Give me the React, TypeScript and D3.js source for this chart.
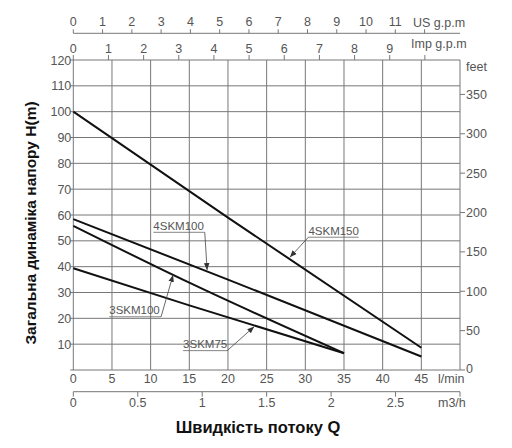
import React, { useRef, useEffect } from 'react';
import * as d3 from 'd3';

// pump curves: flow in l/min, head in m
const skm150Flow = [0, 20, 45];
const skm150Head = [100, 59, 8.6];
const skm100Flow = [0, 20, 45];
const skm100Head = [58.4, 35, 5.2];
const skm3100Flow = [0, 15, 35];
const skm3100Head = [55.8, 33.8, 6.5];
const skm375Flow = [0, 15, 35];
const skm375Head = [39.4, 25, 6.5];

const curveNames = ['4SKM150', '4SKM100', '3SKM100', '3SKM75'];

// ticks
const lpmTicks = [0, 5, 10, 15, 20, 25, 30, 35, 40, 45];
const headTicks = [10, 20, 30, 40, 50, 60, 70, 80, 90, 100, 110, 120];
const feetTicks = [0, 50, 100, 150, 200, 250, 300, 350];
const usGpmTicks = [0, 1, 2, 3, 4, 5, 6, 7, 8, 9, 10, 11, 12];
const impGpmTicks = [0, 1, 2, 3, 4, 5, 6, 7, 8, 9, 10];
const m3hTicks = [0, 0.5, 1, 1.5, 2, 2.5, 3];

// label boxes: text start / underline end (l/min), underline height (m), arrow tip (l/min, m)
const labelX0 = [30.4, 10.35, 4.65, 14.2];
const labelX1 = [36.9, 17.0, 11.35, 19.9];
const labelY = [51.4, 53.3, 20.6, 7.5];
const arrowFromEnd = [false, true, true, true];
const arrowTipX = [28.0, 17.3, 12.9, 23.4];
const arrowTipY = [43.6, 38.7, 36.8, 16.8];

const US_GPM = 3.785;
const IMP_GPM = 4.546;
const M3H = 16.667;
const FT = 3.2808;

const App: React.FC = () => {
  const svgRef = useRef<SVGSVGElement>(null);

  const width = 512;
  const height = 448;
  const margin = { top: 60, right: 52, bottom: 78, left: 73.3 };
  const numFont = '"Liberation Sans", Arial, sans-serif';
  const grey = '#555';

  const x = d3.scaleLinear().domain([0, 50]).range([margin.left, width - margin.right]);
  const y = d3.scaleLinear().domain([0, 120]).range([height - margin.bottom, margin.top]);

  useEffect(() => {
    if (!svgRef.current) return;
    const svg = d3.select(svgRef.current);
    svg.selectAll('*').remove();

    const x0 = x(0), x1 = x(50), y0 = y(0), y1 = y(120);

    // arrow marker
    svg.append('defs').append('marker')
      .attr('id', 'arr')
      .attr('viewBox', '0 0 10 10')
      .attr('refX', 10).attr('refY', 5)
      .attr('markerWidth', 7).attr('markerHeight', 7)
      .attr('markerUnits', 'userSpaceOnUse')
      .attr('orient', 'auto')
      .append('path').attr('d', 'M0,1 L10,5 L0,9 Z').attr('fill', '#333');

    // grid
    const grid = svg.append('g').attr('stroke', '#777').attr('stroke-width', 1);
    grid.selectAll('.v').data(d3.range(0, 55, 5)).join('line')
      .attr('x1', d => x(d)).attr('x2', d => x(d))
      .attr('y1', y1).attr('y2', y0);
    grid.selectAll('.h').data([0, ...headTicks]).join('line')
      .attr('x1', x0 - 3).attr('x2', x1)
      .attr('y1', d => y(d)).attr('y2', d => y(d));

    // left tick labels
    svg.append('g').selectAll('text').data(headTicks).join('text')
      .attr('x', x0 - 2).attr('y', d => y(d) + 4.5)
      .attr('text-anchor', 'end')
      .style('font', `12.5px ${numFont}`).attr('fill', grey)
      .text(d => d);

    // right feet axis
    const fy = d3.scaleLinear().domain([0, 120 * FT]).range([y0, y1]);
    const right = svg.append('g');
    right.selectAll('line').data(feetTicks).join('line')
      .attr('x1', x1).attr('x2', x1 + 5)
      .attr('y1', d => fy(d)).attr('y2', d => fy(d))
      .attr('stroke', '#777');
    right.selectAll('text').data(feetTicks).join('text')
      .attr('x', x1 + 6).attr('y', d => fy(d) + 4.5 - (d === 0 ? 2 : 0))
      .style('font', `12.5px ${numFont}`).attr('fill', grey)
      .text(d => d);
    right.append('text').attr('x', x1 + 6).attr('y', 71)
      .style('font', `12.5px ${numFont}`).attr('fill', grey).text('feet');

    // bottom l/min labels
    const bottom = svg.append('g');
    bottom.selectAll('text').data(lpmTicks).join('text')
      .attr('x', d => x(d)).attr('y', y0 + 12.5)
      .attr('text-anchor', 'middle')
      .style('font', `12.5px ${numFont}`).attr('fill', grey)
      .text(d => d);
    bottom.append('text').attr('x', x(50) - 22).attr('y', y0 + 12.5)
      .style('font', `12.5px ${numFont}`).attr('fill', grey).text('l/min');

    // m3/h axis
    const mY = 391.7;
    const m3 = svg.append('g');
    m3.append('line').attr('x1', x0).attr('x2', x1).attr('y1', mY).attr('y2', mY).attr('stroke', '#777');
    m3.selectAll('line.t').data(m3hTicks).join('line').attr('class', 't')
      .attr('x1', d => x(d * M3H)).attr('x2', d => x(d * M3H))
      .attr('y1', mY).attr('y2', mY + 5).attr('stroke', '#777');
    m3.selectAll('text').data(m3hTicks.slice(0, -1)).join('text')
      .attr('x', d => x(d * M3H)).attr('y', mY + 15)
      .attr('text-anchor', 'middle')
      .style('font', `12.5px ${numFont}`).attr('fill', grey)
      .text(d => d);
    m3.append('text').attr('x', x(50) - 22).attr('y', mY + 15)
      .style('font', `12.5px ${numFont}`).attr('fill', grey).text('m3/h');

    // US gpm axis
    const usY = 33.3;
    const us = svg.append('g');
    us.append('line').attr('x1', x0).attr('x2', x1).attr('y1', usY).attr('y2', usY).attr('stroke', '#777');
    us.selectAll('line.t').data(usGpmTicks).join('line').attr('class', 't')
      .attr('x1', d => x(d * US_GPM)).attr('x2', d => x(d * US_GPM))
      .attr('y1', usY - 4).attr('y2', usY).attr('stroke', '#777');
    us.selectAll('text').data(usGpmTicks.slice(0, -1)).join('text')
      .attr('x', d => x(d * US_GPM)).attr('y', usY - 7)
      .attr('text-anchor', 'middle')
      .style('font', `12.5px ${numFont}`).attr('fill', grey)
      .text(d => d);
    us.append('text').attr('x', 413).attr('y', usY - 6)
      .style('font', `12.5px ${numFont}`).attr('fill', grey).text('US g.p.m');

    // Imp gpm axis (on the plot's top edge)
    const imp = svg.append('g');
    imp.selectAll('line').data(impGpmTicks).join('line')
      .attr('x1', d => x(d * IMP_GPM)).attr('x2', d => x(d * IMP_GPM))
      .attr('y1', y1 - 5).attr('y2', y1).attr('stroke', '#777');
    imp.selectAll('text').data(impGpmTicks.slice(0, -1)).join('text')
      .attr('x', d => x(d * IMP_GPM)).attr('y', y1 - 7)
      .attr('text-anchor', 'middle')
      .style('font', `12.5px ${numFont}`).attr('fill', grey)
      .text(d => d);
    imp.append('text').attr('x', 411).attr('y', y1 - 12)
      .style('font', `12.5px ${numFont}`).attr('fill', grey).text('Imp g.p.m');

    // pump curves
    const flows = [skm150Flow, skm100Flow, skm3100Flow, skm375Flow];
    const heads = [skm150Head, skm100Head, skm3100Head, skm375Head];
    const line = d3.line<[number, number]>()
      .x(d => x(d[0]))
      .y(d => y(d[1]))
      .curve(d3.curveMonotoneX);
    flows.forEach((f, i) => {
      const pts = f.map((v, j) => [v, heads[i][j]] as [number, number]);
      svg.append('path')
        .attr('d', line(pts))
        .attr('fill', 'none')
        .attr('stroke', '#111')
        .attr('stroke-width', 2);
    });

    // curve labels with leaders
    const lab = svg.append('g');
    curveNames.forEach((name, i) => {
      const ux0 = x(labelX0[i]);
      const ux1 = x(labelX1[i]);
      const uy = y(labelY[i]);
      lab.append('text').attr('x', ux0).attr('y', uy - 2.5)
        .style('font', `11.5px ${numFont}`).attr('fill', grey).text(name);
      lab.append('line').attr('x1', ux0).attr('x2', ux1).attr('y1', uy).attr('y2', uy)
        .attr('stroke', '#666').attr('stroke-width', 0.8);
      lab.append('line')
        .attr('x1', arrowFromEnd[i] ? ux1 : ux0).attr('y1', uy)
        .attr('x2', x(arrowTipX[i])).attr('y2', y(arrowTipY[i]))
        .attr('stroke', '#444').attr('stroke-width', 0.8)
        .attr('marker-end', 'url(#arr)');
    });

    // axis titles
    svg.append('text')
      .attr('transform', `translate(36,${(y0 + y1) / 2 + 8}) rotate(-90)`)
      .attr('text-anchor', 'middle')
      .style('font', 'bold 15.5px "Liberation Sans", Arial, sans-serif')
      .attr('fill', '#111')
      .text('Загальна динаміка напору H(m)');
    svg.append('text')
      .attr('x', 258).attr('y', 433)
      .attr('text-anchor', 'middle')
      .style('font', 'bold 16.5px "Liberation Sans", Arial, sans-serif')
      .attr('fill', '#111')
      .text('Швидкість потоку Q');
  }, [svgRef]);

  return (
    <svg
      ref={svgRef}
      width={width}
      height={height}
      style={{ position: 'absolute', left: 0, top: 0, background: '#fff' }}
    />
  );
};

export default App;
